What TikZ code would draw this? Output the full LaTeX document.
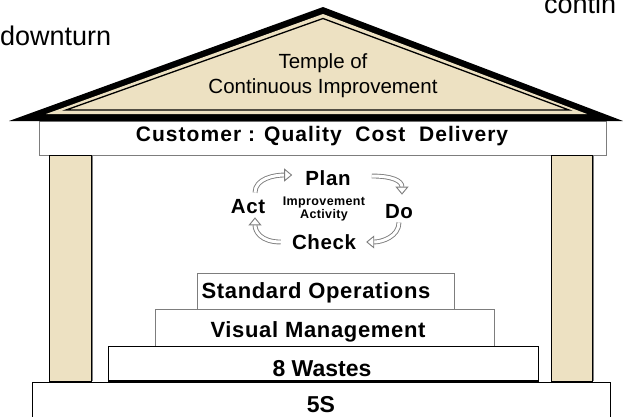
\documentclass[tikz,border=0pt]{standalone}
\usepackage{fontspec}
\setmainfont{Liberation Sans}
\newfontfamily\espace[LetterSpace=5]{Liberation Sans}
\newfontfamily\espacep[LetterSpace=3]{Liberation Sans}
\usetikzlibrary{arrows.meta}
\definecolor{pierre}{RGB}{237,225,194}
\definecolor{bordgris}{RGB}{125,125,125}

\begin{document}
\begin{tikzpicture}[x=1pt, y=-1pt,
  boite/.style={draw=bordgris, fill=white, line width=0.8pt},
  socle/.style={draw=black, fill=white, line width=0.8pt},
  pilier/.style={draw=black, fill=pierre, line width=1pt},
  etage/.style={font=\espacep\bfseries\fontsize{22}{24}\selectfont, inner sep=0pt},
  cycle/.style={font=\espacep\bfseries\fontsize{20.5}{22}\selectfont, inner sep=1pt},
  fleche/.style={draw=bordgris, double=white, double distance=3pt, line width=0.9pt,
    -{Triangle[open, fill=white, length=8pt, width=13pt]}}]
  \useasboundingbox (0,0) rectangle (623,416);
  \clip (0,0) rectangle (623,416);

  % Texte coupe autour de l'image
  \node[font=\fontsize{27}{30}\selectfont, anchor=base west, inner sep=0pt] (ralenti) at (0,45) {downturn};
  \node[font=\fontsize{27}{30}\selectfont, anchor=base west, inner sep=0pt] (suite) at (544,13) {contin};

  % Poutre : client
  \draw[boite] (39,121) rectangle (606,155);
  \node[font=\espace\bfseries\fontsize{21}{23}\selectfont, inner sep=0pt] (client) at (322,136) {Customer : Quality\ \ Cost\ \ Delivery};

  % Toit du temple
  \fill[black] (9,121) -- (323,7) -- (623,121) -- cycle;
  \fill[pierre] (46,114) -- (323,14) -- (587,114) -- cycle;
  \draw[black, line width=1.3pt] (66,110) -- (323,18.5) -- (569,110) -- cycle;
  \node[font=\fontsize{20.5}{25}\selectfont, align=center, inner sep=0pt] (temple) at (323,76) {Temple of\\Continuous Improvement};

  % Piliers
  \draw[pilier] (49,155) rectangle (91,381);
  \draw[pilier] (551,155) rectangle (592,381);
  \draw[bordgris, line width=1pt] (92.5,156) -- (92.5,381);
  \draw[bordgris, line width=1pt] (593.5,156) -- (593.5,381);

  % Cycle PDCA
  \node[cycle] (plan) at (328,178) {Plan};
  \node[cycle] (act) at (248,207) {Act};
  \node[cycle] (do) at (399,212) {Do};
  \node[cycle] (check) at (324,242) {Check};
  \node[font=\espacep\bfseries\fontsize{12.5}{12.5}\selectfont, align=center, inner sep=0pt] (activite) at (324,209) {Improvement\\Activity};
  \draw[fleche] ([xshift=7pt,yshift=6pt]act.north) .. controls +(0,-14) and +(-18,0) .. ([xshift=-12pt,yshift=3pt]plan.west);
  \draw[fleche] ([xshift=20pt,yshift=2pt]plan.east) .. controls +(20,0) and +(0,-14) .. ([xshift=3pt,yshift=9pt]do.north);
  \draw[fleche] ([yshift=-2pt]do.south) .. controls +(0,14) and +(16,0) .. ([xshift=9pt]check.east);
  \draw[fleche] ([xshift=-10pt]check.west) .. controls +(-20,0) and +(0,14) .. ([xshift=7pt,yshift=-2pt]act.south);

  % Etages de la base
  \draw[boite] (197,273) rectangle (454,309);
  \node[etage] (standard) at (316,293) {Standard Operations};
  \draw[boite] (155,309) rectangle (494,346);
  \node[etage] (visuel) at (318,332) {Visual Management};
  \draw[socle] (108,346) rectangle (538,381);
  \draw[black, line width=2.5pt] (108,381) -- (538,381);
  \node[etage, font=\bfseries\fontsize{23}{24}\selectfont] (gaspillage) at (322,369) {8 Wastes};
  \draw[socle] (32,382.5) rectangle (610,425);
  \node[etage, font=\bfseries\fontsize{23}{24}\selectfont] (cinqs) at (321,405) {5S};
\end{tikzpicture}
\end{document}
